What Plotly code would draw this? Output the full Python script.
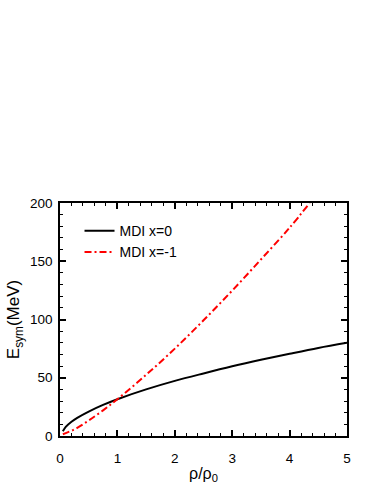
import plotly.graph_objects as go

# density rho/rho0 and symmetry energy (MeV)
rho_x0 = [0.05, 0.1, 0.2, 0.3, 0.5, 0.75, 1.0, 1.5, 2.0, 2.5, 3.0, 3.5, 4.0, 4.5, 5.0]
esym_x0 = [4.0, 7.8, 12.2, 15.6, 21.0, 26.7, 31.6, 40.0, 47.3, 53.7, 59.8, 65.4, 70.6, 75.6, 80.0]

rho_xm1 = [0.05, 0.1, 0.2, 0.3, 0.5, 0.75, 1.0, 1.5, 2.0, 2.5, 3.0, 3.5, 4.0, 4.35]
esym_xm1 = [1.5, 2.5, 4.5, 7.0, 13.3, 22.0, 31.6, 52.5, 75.0, 99.3, 124.8, 151.5, 178.8, 200.0]

FONT = "Liberation Sans, Arial, sans-serif"

fig = go.Figure()

fig.add_trace(go.Scatter(
    x=rho_x0, y=esym_x0,
    mode="lines",
    name="MDI x=0",
    line=dict(color="black", width=2, shape="spline"),
))
fig.add_trace(go.Scatter(
    x=rho_xm1, y=esym_xm1,
    mode="lines",
    name="MDI x=-1",
    line=dict(color="#ff0000", width=2, dash="7px,3px,2px,3px", shape="spline"),
))

axis_common = dict(
    showline=True, linecolor="black", linewidth=1.5,
    mirror="ticks",
    ticks="inside", ticklen=6, tickwidth=1.5, tickcolor="black",
    showgrid=False, zeroline=False, automargin=False,
    tickfont=dict(family=FONT, size=13.5, color="black"),
)

fig.update_xaxes(
    range=[0, 5], dtick=1, tick0=0,
    minor=dict(ticks="inside", dtick=0.2, ticklen=3, tickwidth=1.2, tickcolor="black", showgrid=False),
    title=dict(text="ρ/ρ<sub>0</sub>", font=dict(family=FONT, size=16, color="black"), standoff=10),
    ticklabelstandoff=9,
    **axis_common,
)
fig.update_yaxes(
    range=[0, 200], dtick=50, tick0=0,
    minor=dict(ticks="inside", dtick=10, ticklen=3, tickwidth=1.2, tickcolor="black", showgrid=False),
    title=dict(text="E<sub>sym</sub>(MeV)", font=dict(family=FONT, size=17, color="black"), standoff=6),
    ticklabelstandoff=3,
    **axis_common,
)

fig.update_layout(
    width=374, height=484,
    margin=dict(l=60, r=27, t=203, b=48),
    paper_bgcolor="white",
    plot_bgcolor="white",
    legend=dict(
        x=0.068, y=0.948, xanchor="left", yanchor="top",
        bgcolor="rgba(0,0,0,0)",
        font=dict(family=FONT, size=14, color="black"),
        itemwidth=30, tracegroupgap=0,
    ),
)

# drop the browser's default 8px body margin so the figure sits at the page corner
fig.write_html("out.html", config={"displayModeBar": False},
               post_script="document.body.style.margin='0px';")
